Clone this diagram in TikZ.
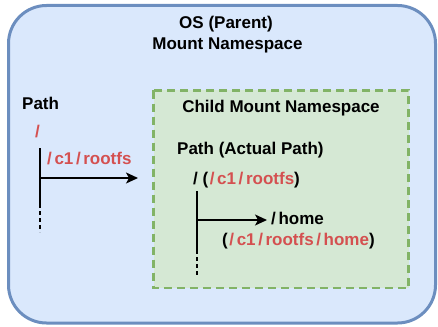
\documentclass[tikz,border=0pt]{standalone}
\usepackage{fontspec}
\setmainfont{Liberation Sans}
\usetikzlibrary{arrows.meta}
\definecolor{bluefill}{HTML}{DAE8FC}
\definecolor{bluestroke}{HTML}{6C8EBF}
\definecolor{greenfill}{HTML}{D5E8D4}
\definecolor{greenstroke}{HTML}{82B366}
\definecolor{redtxt}{HTML}{D45050}
\newcommand{\wsl}{\kern2.6pt/\kern2.6pt}
\begin{document}
\begin{tikzpicture}[x=1pt,y=-1pt,
  txt/.style={font=\bfseries\fontsize{17}{20}\selectfont, inner sep=0pt},
  redt/.style={txt, text=redtxt},
  treeline/.style={line width=1.4pt, black},
  treedash/.style={line width=1.4pt, black, dash pattern=on 4pt off 3pt},
  arr/.style={line width=1.4pt, -{Stealth[length=12pt,width=11pt,inset=3pt]}}]
\useasboundingbox (0,0) rectangle (438,326);
% outer namespace
\draw[line width=3pt, draw=bluestroke, fill=bluefill, rounded corners=38pt]
  (8.5,5.5) rectangle (435.5,323);
\node[txt, anchor=base] (os1) at (226,28.5) {OS (Parent)};
\node[txt, anchor=base] (os2) at (227.5,50) {Mount Namespace};
% child namespace
\draw[line width=2.2pt, draw=greenstroke, fill=greenfill, dash pattern=on 8pt off 5pt]
  (153.5,90.5) rectangle (408.5,288);
\node[txt, anchor=base] (child) at (281,112) {Child Mount Namespace};
% left tree
\node[txt, anchor=base west] (lpath) at (22,110) {Path};
\node[redt, anchor=base west] (lroot) at (35,137.5) {/};
\node[redt, anchor=base west] (lrootfs) at (47,164) {\kern-2.6pt\wsl c1\wsl rootfs};
\coordinate (l1) at (40,148);
\coordinate (l2) at (40,204);
\coordinate (l3) at (40,232);
\coordinate (lb) at (40,178);
\coordinate (lt) at (138,178);
\draw[treeline] (l1) -- (l2);
\draw[treedash] (l2) -- (l3);
\draw[arr] (lb) -- (lt);
% child tree
\node[txt, anchor=base west] (cpath) at (177,154) {Path (Actual Path)};
\node[txt, anchor=base west] (croot) at (193,184) {/ ({\color{redtxt}\kern-1pt\wsl c1\wsl rootfs})};
\coordinate (c1) at (197,191);
\coordinate (c2) at (197,250);
\coordinate (c3) at (197,276);
\coordinate (cb) at (197,220);
\draw[treeline] (c1) -- (c2);
\draw[treedash] (c2) -- (c3);
\node[txt, anchor=base west] (home) at (271,224.5) {/\kern2.6pt home};
\node[txt, anchor=base west] (homep) at (222,245.5) {({\color{redtxt}\kern-1pt\wsl c1\wsl rootfs\wsl home})};
\draw[arr, shorten >=4pt] (cb) -- (cb -| home.west);
\end{tikzpicture}
\end{document}
